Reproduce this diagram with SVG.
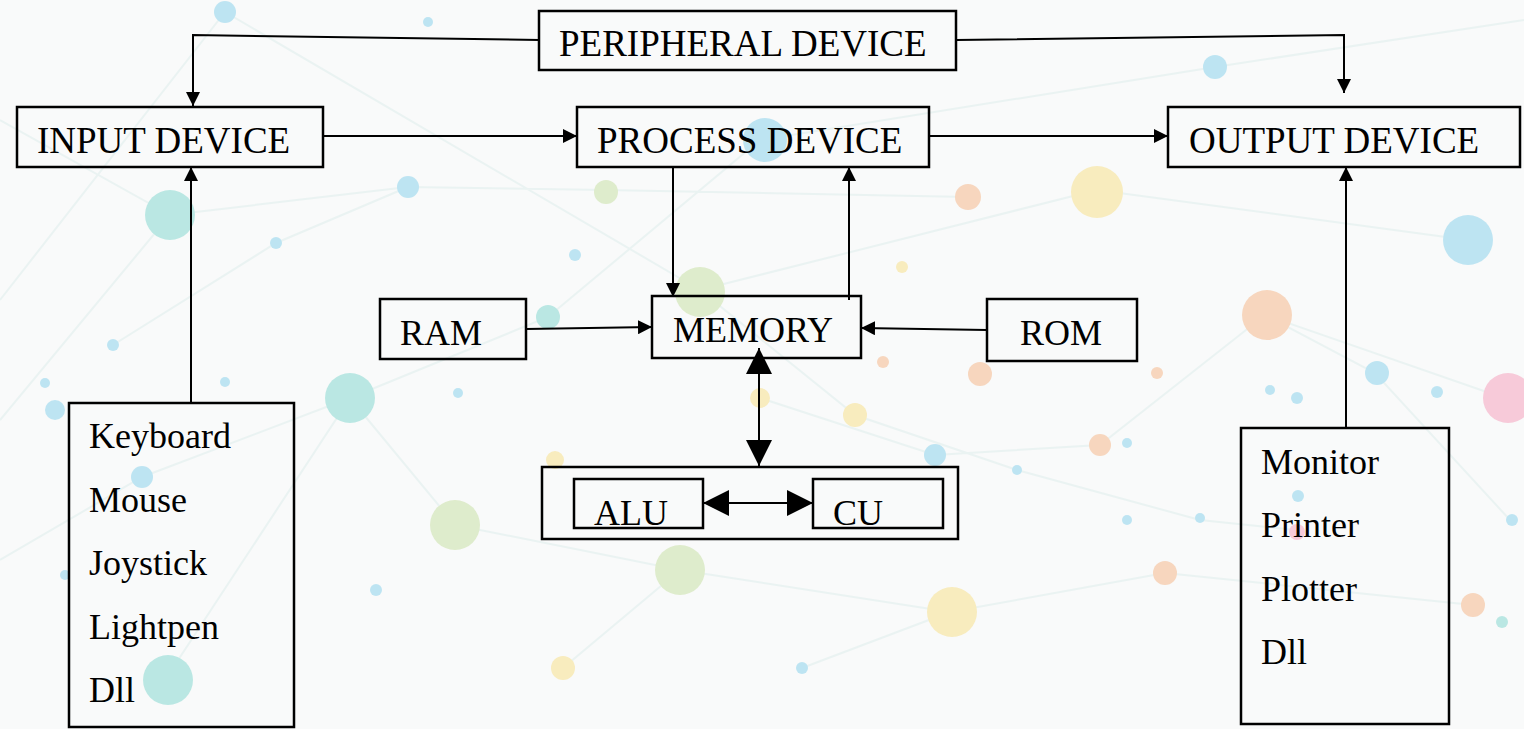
<svg xmlns="http://www.w3.org/2000/svg" width="1524" height="729" viewBox="0 0 1524 729">
<style>
.box{fill:none;stroke:#000;stroke-width:2.5}
.t{font-family:"Liberation Serif","Times New Roman",serif;font-size:36px;fill:#000}
.h{font-size:37px}
.c{fill:none;stroke:#000;stroke-width:2}
.bl{fill:#9ad8ee}.te{fill:#95ddd6}.gr{fill:#cfe4b0}.or{fill:#f6c19a}.ye{fill:#f8e49a}.pk{fill:#f6adc5}
.ln{stroke:#e2efee;stroke-width:2;fill:none}
</style>
<defs>
<marker id="ah" viewBox="0 0 14 14" markerUnits="userSpaceOnUse" markerWidth="14" markerHeight="14" refX="14" refY="7" orient="auto"><path d="M0,0 L14,7 L0,14 z" fill="#000"/></marker>
<marker id="big" viewBox="0 0 26 26" markerUnits="userSpaceOnUse" markerWidth="26" markerHeight="26" refX="26" refY="13" orient="auto-start-reverse"><path d="M0,0 L26,13 L0,26 z" fill="#000"/></marker>
</defs>
<rect x="0" y="0" width="1524" height="729" fill="#f9fafa"/>
<g id="background" opacity="0.62">
<path class="ln" d="M0,300 L225,12 L700,290 L1097,190 L1468,240 M170,215 L408,187 L606,190 L968,197 M350,398 L548,317 L760,140 L1215,67 L1524,20 M455,525 L680,570 L950,612 L1165,573 L1473,605 M165,680 L350,398 L455,525 M760,398 L935,455 L1100,445 L1265,315 L1504,398 M0,560 L142,477 L350,398 M680,570 L563,668 M950,612 L802,668 M1265,315 L1375,373 L1510,520 M0,120 L170,215 L0,420 M700,290 L855,415 L1017,470 L1200,520 L1295,530 M408,187 L276,243 L113,345"/>
<circle class="bl" cx="225" cy="12" r="11"/>
<circle class="bl" cx="428" cy="22" r="5"/>
<circle class="te" cx="170" cy="215" r="25"/>
<circle class="bl" cx="408" cy="187" r="11"/>
<circle class="bl" cx="276" cy="243" r="6"/>
<circle class="te" cx="350" cy="398" r="25"/>
<circle class="bl" cx="113" cy="345" r="6"/>
<circle class="bl" cx="45" cy="383" r="5"/>
<circle class="bl" cx="55" cy="410" r="10"/>
<circle class="bl" cx="142" cy="477" r="11"/>
<circle class="te" cx="168" cy="680" r="25"/>
<circle class="bl" cx="65" cy="575" r="5"/>
<circle class="bl" cx="225" cy="382" r="5"/>
<circle class="gr" cx="455" cy="525" r="25"/>
<circle class="bl" cx="458" cy="393" r="5"/>
<circle class="te" cx="548" cy="317" r="12"/>
<circle class="bl" cx="575" cy="255" r="6"/>
<circle class="gr" cx="606" cy="192" r="12"/>
<circle class="gr" cx="700" cy="292" r="25"/>
<circle class="bl" cx="765" cy="140" r="22"/>
<circle class="or" cx="968" cy="197" r="13"/>
<circle class="ye" cx="1097" cy="192" r="26"/>
<circle class="ye" cx="902" cy="267" r="6"/>
<circle class="or" cx="883" cy="362" r="6"/>
<circle class="or" cx="980" cy="374" r="12"/>
<circle class="or" cx="1157" cy="373" r="6"/>
<circle class="ye" cx="855" cy="415" r="12"/>
<circle class="ye" cx="760" cy="398" r="10"/>
<circle class="bl" cx="935" cy="455" r="11"/>
<circle class="or" cx="1100" cy="445" r="11"/>
<circle class="bl" cx="1127" cy="443" r="5"/>
<circle class="bl" cx="1017" cy="470" r="5"/>
<circle class="ye" cx="555" cy="460" r="9"/>
<circle class="gr" cx="680" cy="570" r="25"/>
<circle class="ye" cx="952" cy="612" r="25"/>
<circle class="or" cx="1165" cy="573" r="12"/>
<circle class="ye" cx="563" cy="668" r="12"/>
<circle class="bl" cx="802" cy="668" r="6"/>
<circle class="bl" cx="376" cy="590" r="6"/>
<circle class="bl" cx="1215" cy="67" r="12"/>
<circle class="or" cx="1267" cy="315" r="25"/>
<circle class="bl" cx="1468" cy="240" r="25"/>
<circle class="bl" cx="1377" cy="373" r="12"/>
<circle class="pk" cx="1508" cy="398" r="25"/>
<circle class="bl" cx="1297" cy="398" r="6"/>
<circle class="bl" cx="1270" cy="390" r="5"/>
<circle class="bl" cx="1437" cy="392" r="6"/>
<circle class="or" cx="1473" cy="605" r="12"/>
<circle class="te" cx="1502" cy="622" r="6"/>
<circle class="bl" cx="1512" cy="520" r="6"/>
<circle class="bl" cx="1127" cy="520" r="5"/>
<circle class="bl" cx="1200" cy="518" r="5"/>
<circle class="bl" cx="1298" cy="496" r="6"/>
<circle class="pk" cx="1297" cy="532" r="8"/>
</g>
<g id="connectors">
<polyline class="c" points="540,40 193,35 193,106" marker-end="url(#ah)"/>
<polyline class="c" points="956,40 1344,35 1344,93" marker-end="url(#ah)"/>
<line class="c" x1="323" y1="136" x2="577" y2="136" marker-end="url(#ah)"/>
<line class="c" x1="929" y1="136" x2="1168" y2="136" marker-end="url(#ah)"/>
<line class="c" x1="673" y1="167" x2="673" y2="297" marker-end="url(#ah)"/>
<line class="c" x1="849" y1="300" x2="849" y2="167" marker-end="url(#ah)"/>
<line class="c" x1="526" y1="329" x2="652" y2="327" marker-end="url(#ah)"/>
<line class="c" x1="987" y1="330" x2="861" y2="328" marker-end="url(#ah)"/>
<line class="c" x1="759" y1="348" x2="759" y2="466" marker-start="url(#big)" marker-end="url(#big)"/>
<line class="c" x1="703" y1="503" x2="813" y2="503" marker-start="url(#big)" marker-end="url(#big)"/>
<line class="c" x1="191" y1="403" x2="191" y2="167" marker-end="url(#ah)"/>
<line class="c" x1="1346" y1="428" x2="1346" y2="167" marker-end="url(#ah)"/>
</g>
<g id="peripheral"><rect class="box" x="539" y="11" width="417" height="59"/><text class="t h" x="559" y="56">PERIPHERAL DEVICE</text></g>
<g id="input"><rect class="box" x="17" y="107" width="306" height="60"/><text class="t h" x="37" y="153">INPUT DEVICE</text></g>
<g id="process"><rect class="box" x="577" y="107" width="352" height="60"/><text class="t h" x="597" y="153">PROCESS DEVICE</text></g>
<g id="output"><rect class="box" x="1168" y="107" width="352" height="60"/><text class="t h" x="1189" y="153">OUTPUT DEVICE</text></g>
<g id="ram"><rect class="box" x="380" y="299" width="146" height="60"/><text class="t" x="400" y="345">RAM</text></g>
<g id="memory"><rect class="box" x="652" y="296" width="209" height="62"/><text class="t" x="673" y="342">MEMORY</text></g>
<g id="rom"><rect class="box" x="987" y="299" width="150" height="62"/><text class="t" x="1020" y="345">ROM</text></g>
<g id="cpu"><rect class="box" x="542" y="467" width="416" height="72"/></g>
<g id="alu"><rect class="box" x="574" y="479" width="129" height="49"/><text class="t" x="594" y="525">ALU</text></g>
<g id="cu"><rect class="box" x="813" y="479" width="130" height="49"/><text class="t" x="833" y="525">CU</text></g>
<g id="input-list"><rect class="box" x="69" y="403" width="225" height="324"/>
<text class="t" x="89" y="448">Keyboard</text><text class="t" x="89" y="512">Mouse</text><text class="t" x="89" y="575">Joystick</text><text class="t" x="89" y="639">Lightpen</text><text class="t" x="89" y="702">Dll</text></g>
<g id="output-list"><rect class="box" x="1241" y="428" width="208" height="296"/>
<text class="t" x="1261" y="474">Monitor</text><text class="t" x="1261" y="537">Printer</text><text class="t" x="1261" y="601">Plotter</text><text class="t" x="1261" y="664">Dll</text></g>
</svg>
